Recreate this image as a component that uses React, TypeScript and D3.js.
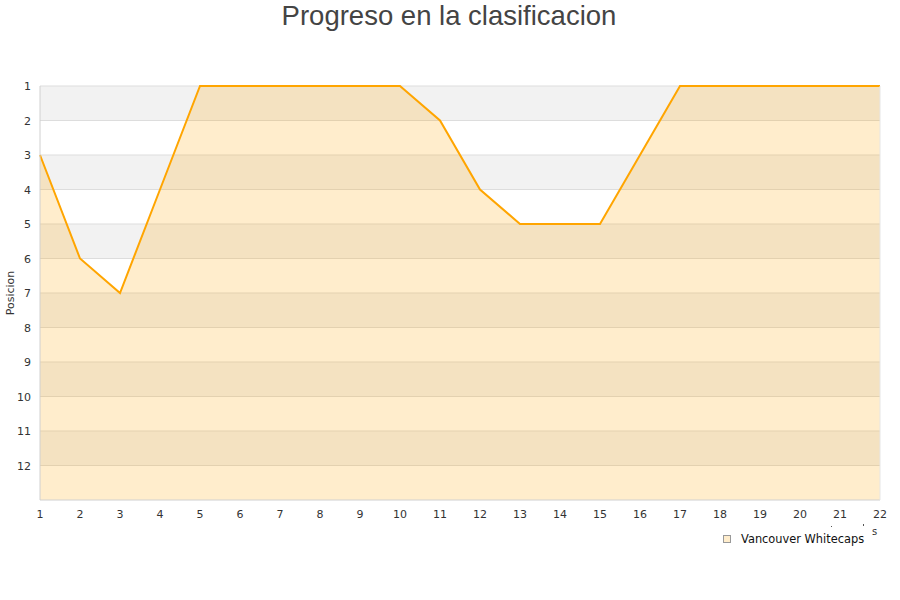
import React from "react";
import * as d3 from "d3";

const jornadas: number[] = [1, 2, 3, 4, 5, 6, 7, 8, 9, 10, 11, 12, 13, 14, 15, 16, 17, 18, 19, 20, 21, 22];
const posiciones: number[] = [3, 6, 7, 4, 1, 1, 1, 1, 1, 1, 2, 4, 5, 5, 5, 3, 1, 1, 1, 1, 1, 1];
const rankTicks: number[] = [1, 2, 3, 4, 5, 6, 7, 8, 9, 10, 11, 12];
const teamName = "Vancouver Whitecaps";
const chartTitle = "Progreso en la clasificacion";
const yTitle = "Posicion";

const W = 900;
const H = 600;
const left = 40;
const right = 880;
const top = 86;
const bottom = 500;

export default function App() {
  const x = d3.scaleLinear().domain([1, 22]).range([left, right]);
  const y = d3.scaleLinear().domain([1, 13]).range([top, bottom]);

  const pts = jornadas.map((j, i) => [j, posiciones[i]] as [number, number]);
  const line = d3.line<[number, number]>().x((d) => x(d[0])).y((d) => y(d[1]));
  const area = d3
    .area<[number, number]>()
    .x((d) => x(d[0]))
    .y0(bottom)
    .y1((d) => y(d[1]));

  const bands = d3.range(1, 13);

  return (
    <svg width={W} height={H} style={{ display: "block", position: "absolute", left: 0, top: 0 }}>
      <rect x={0} y={0} width={W} height={H} fill="#fff" />
      <text
        x={449}
        y={25}
        textAnchor="middle"
        fontFamily="Liberation Sans, Arial, sans-serif"
        fontSize={27.5}
        fill="#444"
      >
        {chartTitle}
      </text>

      {/* alternating row bands */}
      {bands.map((b) => (
        <rect
          key={b}
          x={left}
          y={y(b)}
          width={right - left}
          height={y(b + 1) - y(b)}
          fill={b % 2 === 1 ? "#f2f2f2" : "#ffffff"}
        />
      ))}
      {/* grid lines */}
      {rankTicks.map((r) => (
        <line key={r} x1={left} x2={right} y1={y(r)} y2={y(r)} stroke="#dddddd" strokeWidth={1} />
      ))}

      <path d={area(pts) ?? ""} fill="#ffa500" fillOpacity={0.2} />
      <path d={line(pts) ?? ""} fill="none" stroke="#ffa500" strokeWidth={2} />

      {/* axes */}
      <line x1={left} x2={left} y1={top} y2={bottom} stroke="#d0d0d0" />
      <line x1={left} x2={right} y1={bottom} y2={bottom} stroke="#d0d0d0" />
      <line x1={right} x2={right} y1={top} y2={bottom} stroke="#e6e6e6" />

      {rankTicks.map((r) => (
        <text
          key={r}
          x={31}
          y={y(r) + 4}
          textAnchor="end"
          fontFamily="DejaVu Sans, sans-serif"
          fontSize={11}
          fill="#333"
        >
          {r}
        </text>
      ))}
      {jornadas.map((j) => (
        <text
          key={j}
          x={x(j)}
          y={518}
          textAnchor="middle"
          fontFamily="DejaVu Sans, sans-serif"
          fontSize={11}
          fill="#333"
        >
          {j}
        </text>
      ))}

      <text
        transform={`translate(14, ${(top + bottom) / 2}) rotate(-90)`}
        textAnchor="middle"
        fontFamily="DejaVu Sans, sans-serif"
        fontSize={11}
        fill="#333"
      >
        {yTitle}
      </text>
      {/* clipped x-axis title remnants */}
      <rect x={831} y={526} width={1} height={1} fill="#555" />
      <rect x={863} y={524} width={1} height={2} fill="#555" />
      <text x={872} y={535} fontFamily="DejaVu Sans, sans-serif" fontSize={10} fill="#333">
        s
      </text>

      {/* legend */}
      <rect x={723.5} y={535.5} width={7} height={7} fill="#ffedcc" stroke="#999" strokeWidth={1} />
      <text x={741} y={543} fontFamily="DejaVu Sans, sans-serif" fontSize={11.4} fill="#111">
        {teamName}
      </text>
    </svg>
  );
}
